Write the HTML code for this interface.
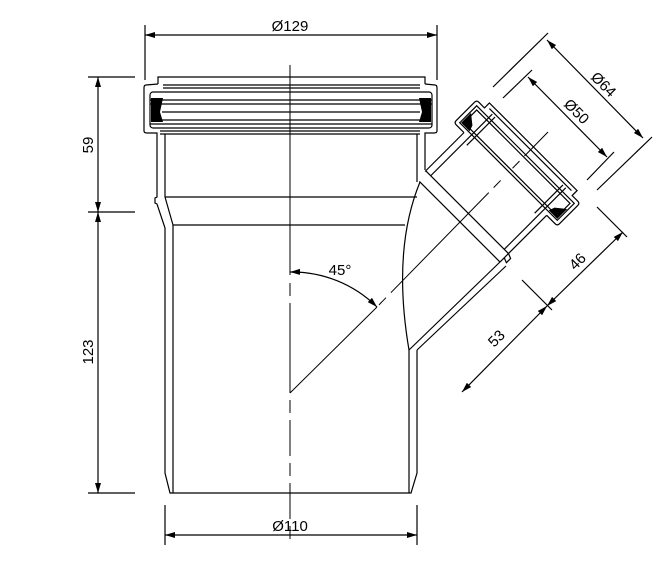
<!DOCTYPE html>
<html><head><meta charset="utf-8"><style>
html,body{margin:0;padding:0;background:#fff}
svg{display:block}
text{font-family:"Liberation Sans",sans-serif;font-size:15px;fill:#000}
</style></head><body>
<svg width="660" height="562" viewBox="0 0 660 562" xmlns="http://www.w3.org/2000/svg">
<defs>
<marker id="a" markerWidth="10" markerHeight="6" refX="10" refY="3" orient="auto-start-reverse" markerUnits="userSpaceOnUse"><path d="M0,0 L10,3 L0,6z" fill="#000"/></marker>
</defs>
<g fill="none" stroke="#000" stroke-width="1.2">
<!-- dimensions -->
<line x1="145" y1="25" x2="145" y2="80"/><line x1="437" y1="25" x2="437" y2="80"/>
<line x1="145" y1="35" x2="437" y2="35" marker-start="url(#a)" marker-end="url(#a)"/>
<line x1="165" y1="505" x2="165" y2="545"/><line x1="417" y1="505" x2="417" y2="545"/>
<line x1="165" y1="535" x2="417" y2="535" marker-start="url(#a)" marker-end="url(#a)"/>
<line x1="88" y1="77" x2="135" y2="77"/><line x1="88" y1="212" x2="135" y2="212"/><line x1="88" y1="493" x2="135" y2="493"/>
<line x1="98" y1="77" x2="98" y2="212" marker-start="url(#a)" marker-end="url(#a)"/>
<line x1="98" y1="212" x2="98" y2="493" marker-start="url(#a)" marker-end="url(#a)"/>
<!-- branch dims -->
<line x1="493" y1="87" x2="548" y2="33"/><line x1="597" y1="190" x2="652" y2="137"/>
<line x1="547" y1="40" x2="643" y2="138" marker-start="url(#a)" marker-end="url(#a)"/>
<line x1="503" y1="98" x2="532" y2="70"/><line x1="587" y1="180" x2="614" y2="152"/>
<line x1="528" y1="77" x2="607" y2="157" marker-start="url(#a)" marker-end="url(#a)"/>
<line x1="522" y1="280" x2="552" y2="310"/><line x1="597" y1="207" x2="627" y2="237"/>
<line x1="462" y1="392" x2="547" y2="306" marker-start="url(#a)" marker-end="url(#a)"/>
<line x1="547" y1="306" x2="623" y2="232" marker-start="url(#a)" marker-end="url(#a)"/>
<!-- centerlines -->
<line x1="290" y1="65" x2="290" y2="275" stroke-width="1"/>
<line x1="290" y1="283" x2="290" y2="296" stroke-width="1"/>
<line x1="290" y1="303" x2="290" y2="393" stroke-width="1"/>
<line x1="290" y1="400" x2="290" y2="413" stroke-width="1"/>
<line x1="290" y1="420" x2="290" y2="545" stroke-width="1" stroke-dasharray="36,7,13,7"/>
<line x1="290" y1="393" x2="377" y2="307" stroke-width="1"/>
<line x1="372" y1="312" x2="548" y2="132" stroke-width="1" stroke-dasharray="0,10,10,7,140,7,10,7"/>
<path d="M290,272 A121,121 0 0 1 377,307" marker-start="url(#a)" marker-end="url(#a)"/>
<!-- main socket -->
<path d="M158,84 L158,77 L425,77 L425,84"/>
<path d="M158,84 L146,85 Q144,85 144,88 L144,131 Q144,133 147,133 L157,133 L157,197 L155,198 L155,203 L157,204 L165,228 L165,473 L170,493 L411,493 L417,473 L417,350"/>
<path d="M425,84 L435,85 Q437,85 437,88 L437,131 Q437,133 434,133 L425,133 L425,170"/>
<rect x="150" y="92" width="282" height="36" rx="3"/>
<line x1="150" y1="100" x2="432" y2="100"/><line x1="150" y1="104" x2="432" y2="104"/>
<line x1="162" y1="112" x2="420" y2="112"/><line x1="160" y1="120" x2="422" y2="120"/>
<line x1="150" y1="124" x2="432" y2="124"/>
<line x1="163" y1="85" x2="420" y2="85"/><line x1="163" y1="88" x2="420" y2="88"/>
<line x1="160" y1="131" x2="420" y2="131"/><line x1="160" y1="134" x2="420" y2="134"/>
<line x1="165" y1="134" x2="165" y2="197"/><line x1="417" y1="134" x2="417" y2="182"/>
<line x1="165" y1="197" x2="417" y2="197"/>
<line x1="165" y1="197" x2="173" y2="225"/>
<line x1="173" y1="225" x2="405" y2="225"/>
<line x1="173" y1="225" x2="173" y2="493"/>
<line x1="409" y1="350" x2="409" y2="493"/>
<!-- branch join curves -->
<path d="M420,182 Q392,250 409,350"/>
<path d="M501,261 L409,350"/>
<path d="M506,266 L417,350"/>
</g>
<polygon points="151,98 163,98 160,112 163,122 151,122" fill="#000"/>
<polygon points="431,98 419,98 422,112 419,122 431,122" fill="#000"/>
<!-- branch in rotated frame -->
<g transform="translate(290,390) rotate(-45)" fill="none" stroke="#000" stroke-width="1.2">
<line x1="250" y1="-59" x2="305" y2="-59"/>
<line x1="240" y1="58" x2="305" y2="58"/>
<line x1="239" y1="-56" x2="239" y2="58"/>
<line x1="251" y1="-59" x2="251" y2="58"/>
<line x1="251" y1="-52" x2="338" y2="-52"/>
<line x1="251" y1="52" x2="338" y2="52"/>
<line x1="298" y1="-48" x2="338" y2="-48"/>
<line x1="298" y1="48" x2="338" y2="48"/>
<path d="M305,-59 L305,-70 Q305,-73 308,-73 L334,-73 Q337,-73 337,-70 L337,-62 L344,-62 L344,62 L337,62 L337,70 Q337,73 334,73 L308,73 Q305,73 305,70 L305,58"/>
<path d="M309,-69 L333,-69 L333,69 L309,69 Z"/>
<path d="M312,-66 L330,-66 L330,66 L312,66 Z"/>
<line x1="340" y1="-58" x2="340" y2="58"/>
<polygon points="310,-68 324,-68 316,-58 310,-56" fill="#000" stroke="none"/>
<polygon points="310,68 324,68 316,58 310,56" fill="#000" stroke="none"/>
<path d="M245,58 L243,63 L249,63 L251,58"/>
</g>
<text x="290" y="31" text-anchor="middle">Ø129</text>
<text x="290" y="531" text-anchor="middle">Ø110</text>
<text transform="translate(93,145) rotate(-90)" text-anchor="middle">59</text>
<text transform="translate(93,352) rotate(-90)" text-anchor="middle">123</text>
<text x="340" y="275" text-anchor="middle">45°</text>
<text transform="translate(600,88) rotate(45)" text-anchor="middle">Ø64</text>
<text transform="translate(573,115) rotate(45)" text-anchor="middle">Ø50</text>
<text transform="translate(581,265) rotate(-45)" text-anchor="middle">46</text>
<text transform="translate(500,342) rotate(-45)" text-anchor="middle">53</text>
</svg>
</body></html>
